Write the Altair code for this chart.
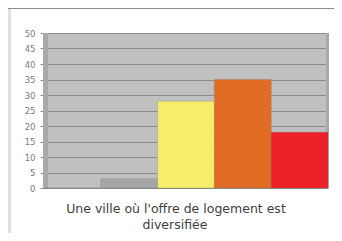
import altair as alt
import pandas as pd

categories = ["A", "B", "C", "D", "E"]
values = [0, 3, 28, 35, 18]
colors = ["#a6a6a6", "#a6a6a6", "#f6ee6a", "#e16c23", "#ed1f27"]
y_ticks = list(range(0, 55, 5))
title_line1 = "Une ville où l'offre de logement est"
title_line2 = "diversifiée"

df = pd.DataFrame({"cat": categories, "val": values, "col": colors})
one = pd.DataFrame({"a": [0]})

W, H = 284, 155

bars = alt.Chart(df).mark_bar(stroke="#6e6e6e", strokeWidth=0.5, strokeOpacity=0.5).encode(
    x=alt.X("cat:N", sort=categories,
            scale=alt.Scale(paddingInner=0, paddingOuter=0),
            axis=None),
    y=alt.Y("val:Q", scale=alt.Scale(domain=[0, 50], nice=False),
            axis=alt.Axis(values=y_ticks, title=None, grid=True,
                          gridColor="#8c8c8c", gridWidth=1,
                          domain=False, tickSize=4, tickColor="#8a8a8a",
                          labelPadding=5, labelFontSize=8.5,
                          labelColor="#7a7a7a", labelFont="DejaVu Sans")),
    color=alt.Color("col:N", scale=None),
)

left_strip = alt.Chart(one).mark_rect(color="#a9a9a9").encode(
    x=alt.value(-1), x2=alt.value(4), y=alt.value(0), y2=alt.value(H))
right_strip = alt.Chart(one).mark_rect(color="#a9a9a9").encode(
    x=alt.value(W - 2), x2=alt.value(W + 1), y=alt.value(0), y2=alt.value(H))

frame_left = alt.Chart(one).mark_rect(color="#e0e0e0").encode(
    x=alt.value(-36), x2=alt.value(-33), y=alt.value(-25), y2=alt.value(200))
frame_top = alt.Chart(one).mark_rect(color="#8c8c8c").encode(
    x=alt.value(-36), x2=alt.value(W + 6), y=alt.value(-25), y2=alt.value(-24))

t1 = alt.Chart(one).mark_text(
    text=title_line1, fontSize=12.5, font="DejaVu Sans", color="#404040",
    align="center", baseline="alphabetic"
).encode(x=alt.value(132), y=alt.value(180))
t2 = alt.Chart(one).mark_text(
    text=title_line2, fontSize=12.5, font="DejaVu Sans", color="#404040",
    align="center", baseline="alphabetic"
).encode(x=alt.value(131), y=alt.value(196))

chart = alt.layer(frame_left, frame_top, left_strip, right_strip, bars, t1, t2).properties(
    width=W, height=H,
    padding={"left": 36, "top": 25, "right": 6, "bottom": 45},
    autosize=alt.AutoSizeParams(type="none"),
    background="white",
).configure_view(fill="#c0c0c0", stroke=None)

chart.save("out.html", embed_options={"renderer": "svg", "actions": False})
